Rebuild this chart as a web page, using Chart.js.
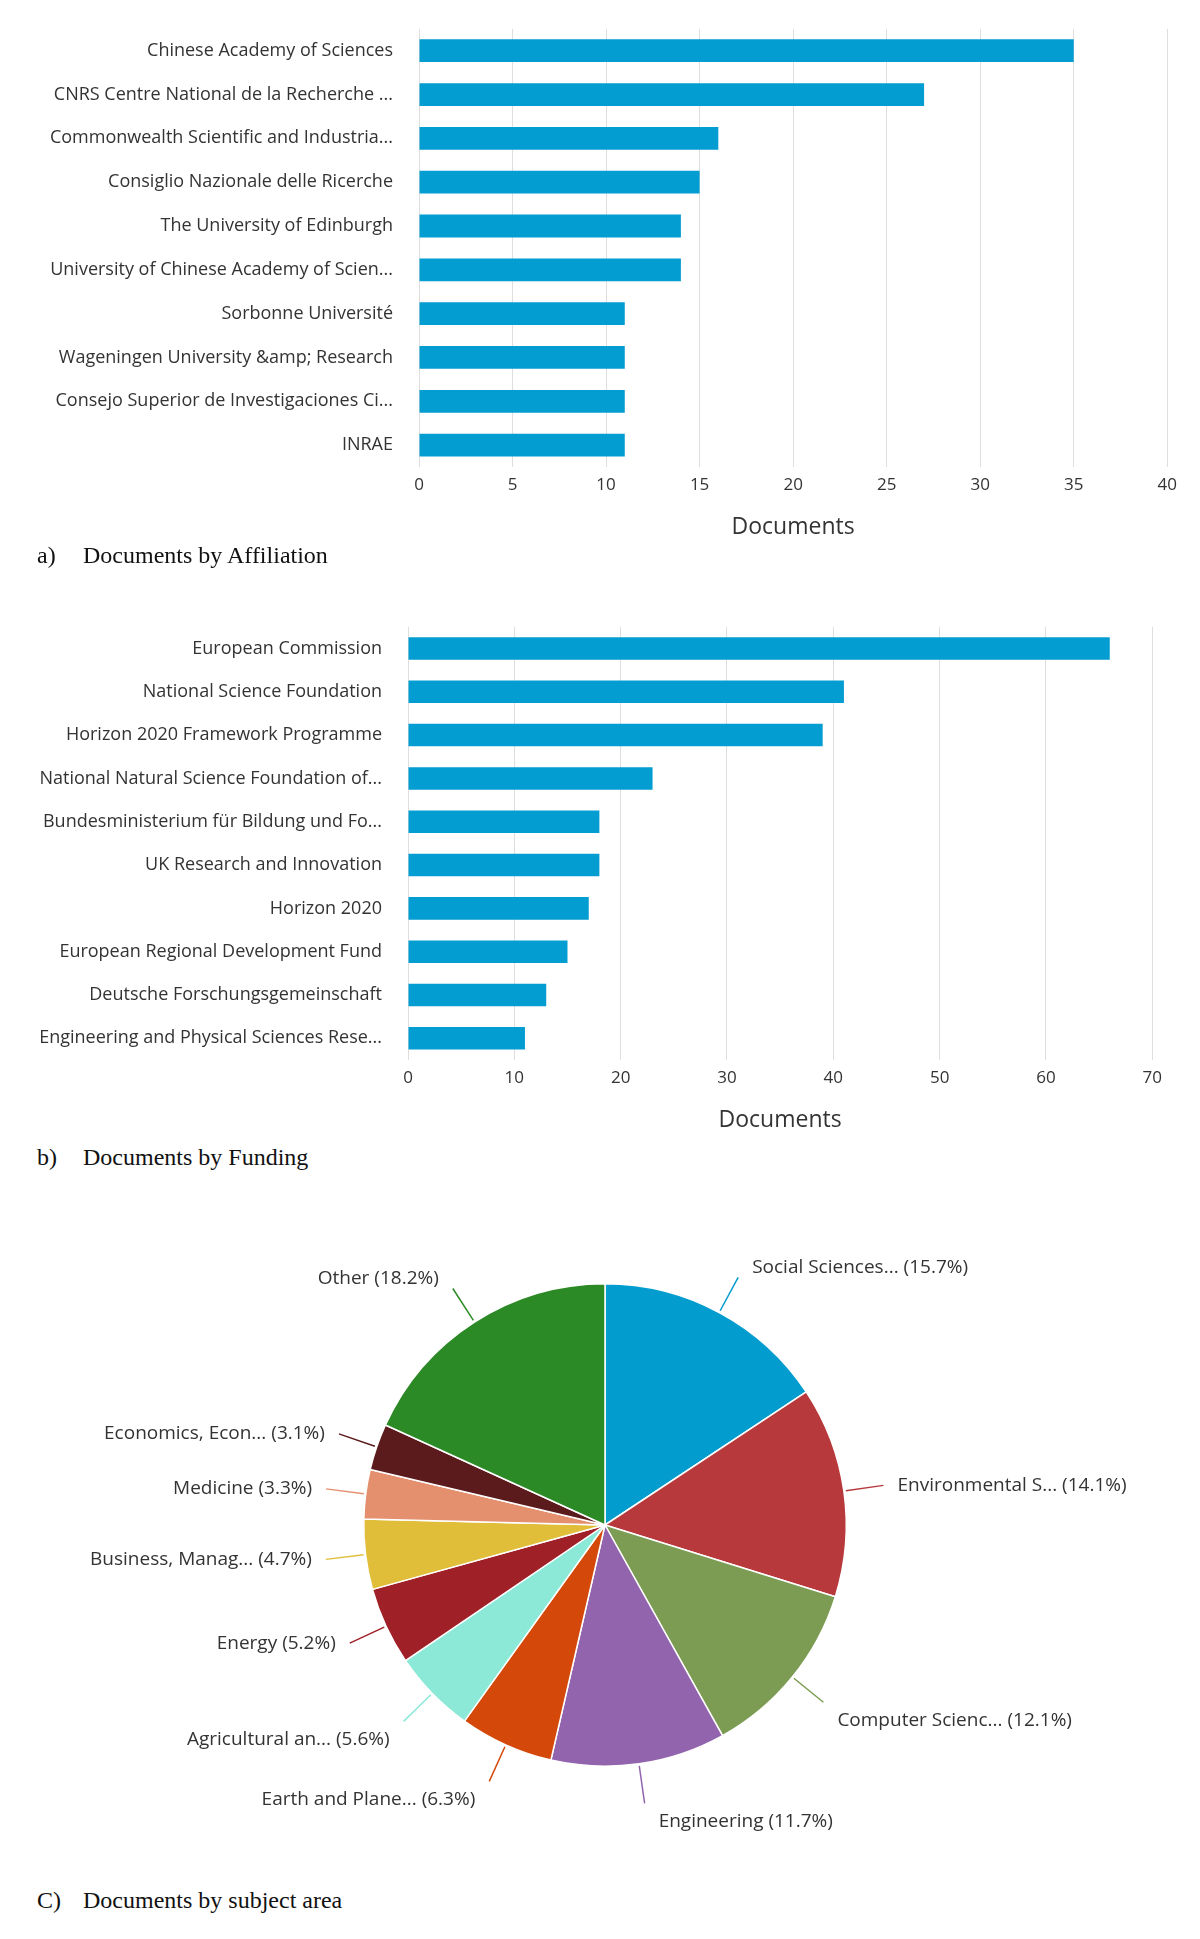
<!DOCTYPE html>
<html>
<head>
<meta charset="utf-8">
<script src="https://cdn.jsdelivr.net/npm/chart.js@4"></script>
<style>
body { margin:0; background:#fff; width:1200px; height:1939px; position:relative; overflow:hidden; }
.box { position:absolute; left:0; }
.cap { position:absolute; left:37px; font-family:"Liberation Serif", serif; font-size:24px; color:#111; }
.cap span { display:inline-block; width:46px; }
</style>
</head>
<body>
<div class="box" style="top:0;width:1185px;height:545px"><canvas id="c1"></canvas></div>
<div class="cap" style="top:542px"><span>a)</span>Documents by Affiliation</div>
<div class="box" style="top:598px;width:1170px;height:540px"><canvas id="c2"></canvas></div>
<div class="cap" style="top:1144px"><span>b)</span>Documents by Funding</div>
<div class="box" style="top:1200px;width:1200px;height:650px"><canvas id="c3"></canvas></div>
<div class="cap" style="top:1887px"><span>C)</span>Documents by subject area</div>
<script>
var affLabels = ['Chinese Academy of Sciences','CNRS Centre National de la Recherche ...','Commonwealth Scientific and Industria...','Consiglio Nazionale delle Ricerche','The University of Edinburgh','University of Chinese Academy of Scien...','Sorbonne Université','Wageningen University &amp; Research','Consejo Superior de Investigaciones Ci...','INRAE'];
var affValues = [35,27,16,15,14,14,11,11,11,11];
var fundLabels = ['European Commission','National Science Foundation','Horizon 2020 Framework Programme','National Natural Science Foundation of...','Bundesministerium für Bildung und Fo...','UK Research and Innovation','Horizon 2020','European Regional Development Fund','Deutsche Forschungsgemeinschaft','Engineering and Physical Sciences Rese...'];
var fundValues = [66,41,39,23,18,18,17,15,13,11];
var subjLabels = ['Social Sciences... (15.7%)','Environmental S... (14.1%)','Computer Scienc... (12.1%)','Engineering (11.7%)','Earth and Plane... (6.3%)','Agricultural an... (5.6%)','Energy (5.2%)','Business, Manag... (4.7%)','Medicine (3.3%)','Economics, Econ... (3.1%)','Other (18.2%)'];
var subjValues = [15.7,14.1,12.1,11.7,6.3,5.6,5.2,4.7,3.3,3.1,18.2];
var subjColors = ['#039cce','#b8393b','#7b9c52','#9264ae','#d4490a','#8de9d7','#a02027','#e0be3a','#e48f6e','#5b1a1b','#2b8a25'];

var FONT = '"Open Sans", sans-serif';

function barChart(id, labels, values, max, step, yw, padTop) {
  new Chart(document.getElementById(id), {
    type: 'bar',
    data: { labels: labels, datasets: [{ data: values, backgroundColor: '#049dd1', barPercentage: 0.52, categoryPercentage: 1 }] },
    options: {
      indexAxis: 'y', responsive: true, maintainAspectRatio: false, animation: false,
      layout: { padding: { top: padTop, right: 5 } },
      plugins: { legend: { display: false }, tooltip: { enabled: false } },
      scales: {
        x: { min: 0, max: max, ticks: { stepSize: step, color: '#333', font: { family: FONT, size: 17 }, padding: 8 },
             grid: { color: '#dedede', drawTicks: false }, border: { display: false },
             title: { display: true, text: 'Documents', color: '#333', font: { family: FONT, size: 23 }, padding: { top: 10 } } },
        y: { ticks: { color: '#333', font: { family: FONT, size: 18 }, padding: 18 }, grid: { display: false }, border: { display: false },
             afterFit: function (s) { s.width = yw; } }
      }
    }
  });
}
barChart('c1', affLabels, affValues, 40, 5, 419, 22);
barChart('c2', fundLabels, fundValues, 70, 10, 408, 22);

var pieLabelPlugin = {
  id: 'pieLabels',
  afterDraw: function (chart) {
    var ctx = chart.ctx;
    var meta = chart.getDatasetMeta(0);
    ctx.save();
    ctx.font = '19px ' + FONT;
    ctx.textBaseline = 'middle';
    meta.data.forEach(function (arc, i) {
      var a = (arc.startAngle + arc.endAngle) / 2;
      var r = arc.outerRadius;
      var x0 = arc.x + Math.cos(a) * (r + 2), y0 = arc.y + Math.sin(a) * (r + 2);
      var x1 = arc.x + Math.cos(a) * (r + 40), y1 = arc.y + Math.sin(a) * (r + 40);
      ctx.strokeStyle = subjColors[i];
      ctx.lineWidth = 1.5;
      ctx.beginPath(); ctx.moveTo(x0, y0); ctx.lineTo(x1, y1); ctx.stroke();
      var right = Math.cos(a) >= 0;
      ctx.fillStyle = '#333';
      ctx.textAlign = right ? 'left' : 'right';
      ctx.fillText(chart.data.labels[i], x1 + (right ? 14 : -14), y1 + (Math.sin(a) > 0.5 ? 18 : Math.sin(a) < -0.5 ? -10 : 0));
    });
    ctx.restore();
  }
};
new Chart(document.getElementById('c3'), {
  type: 'pie',
  data: { labels: subjLabels, datasets: [{ data: subjValues, backgroundColor: subjColors, borderColor: '#fff', borderWidth: 1.5 }] },
  options: {
    responsive: true, maintainAspectRatio: false, animation: false,
    layout: { padding: { top: 83, bottom: 83, left: 363, right: 353 } },
    plugins: { legend: { display: false }, tooltip: { enabled: false } }
  },
  plugins: [pieLabelPlugin]
});
</script>
</body>
</html>
